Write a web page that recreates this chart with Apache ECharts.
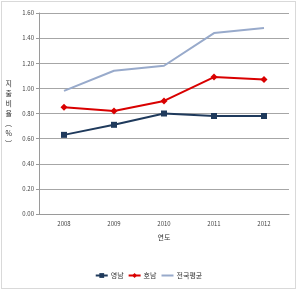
<!DOCTYPE html>
<html lang="ko">
<head>
    <meta charset="UTF-8">
    <title>지출비율</title>
    <script src="https://cdn.jsdelivr.net/npm/echarts@6/dist/echarts.min.js"></script>
    <style>
        html, body { margin: 0; padding: 0; background: #fff; }
        .chart {
            position: absolute;
            left: 1px;
            top: 1px;
            width: 295px;
            height: 288px;
            border: 1px solid #d9d9d9;
            box-sizing: border-box;
        }
    </style>
</head>
<body>
<div class="chart"></div>

<script>
    const years = ['2008', '2009', '2010', '2011', '2012'];
    const yeongnam = [0.63, 0.71, 0.80, 0.78, 0.78];
    const honam = [0.85, 0.82, 0.90, 1.09, 1.07];
    const national = [0.98, 1.14, 1.18, 1.44, 1.48];
    const yTitle = '지\n출\n비\n율\n︵\n%\n︶';

    const font = 'Noto Sans CJK KR';
    let chart = echarts.init(document.querySelector('.chart'));

    chart.setOption({
        backgroundColor: '#fff',
        animation: false,
        textStyle: { fontFamily: font },
        grid: { left: 36, right: 6, top: 11, bottom: 74 },
        legend: {
            bottom: 4,
            left: 'center',
            itemWidth: 12,
            itemHeight: 6,
            itemGap: 4,
            textStyle: { fontSize: 7, color: '#333', fontFamily: font, padding: [0, 0, 0, -2] },
            data: [
                '영남',
                '호남',
                { name: '전국평균', itemStyle: { color: 'transparent', borderWidth: 0 } }
            ]
        },
        xAxis: {
            type: 'category',
            data: years,
            name: '연도',
            nameLocation: 'middle',
            nameGap: 20,
            nameTextStyle: { fontSize: 7, color: '#333', fontFamily: font },
            axisLine: { lineStyle: { color: '#9a9a9a' } },
            axisTick: { length: 3, lineStyle: { color: '#9a9a9a' } },
            axisLabel: { fontSize: 6, color: '#444', margin: 7 }
        },
        yAxis: {
            type: 'value',
            min: 0,
            max: 1.6,
            interval: 0.2,
            name: yTitle,
            nameLocation: 'middle',
            nameRotate: 0,
            nameGap: 27,
            nameTextStyle: { fontSize: 7, color: '#333', lineHeight: 10, fontFamily: font },
            axisLine: { show: true, lineStyle: { color: '#9a9a9a' } },
            axisTick: { show: true, length: 3, lineStyle: { color: '#9a9a9a' } },
            splitLine: { lineStyle: { color: '#a6a6a6' } },
            axisLabel: {
                fontSize: 6,
                color: '#444',
                margin: 5,
                formatter: v => v.toFixed(2)
            }
        },
        series: [
            {
                name: '영남',
                type: 'line',
                data: yeongnam,
                symbol: 'rect',
                symbolSize: 6,
                lineStyle: { width: 2, color: '#1f3a5c' },
                itemStyle: { color: '#1f3a5c' }
            },
            {
                name: '호남',
                type: 'line',
                data: honam,
                symbol: 'diamond',
                symbolSize: 7,
                lineStyle: { width: 2, color: '#d90000' },
                itemStyle: { color: '#d90000' }
            },
            {
                name: '전국평균',
                type: 'line',
                data: national,
                symbol: 'none',
                lineStyle: { width: 2, color: '#98aacb' },
                itemStyle: { color: '#98aacb' }
            }
        ]
    });
</script>
</body>
</html>
